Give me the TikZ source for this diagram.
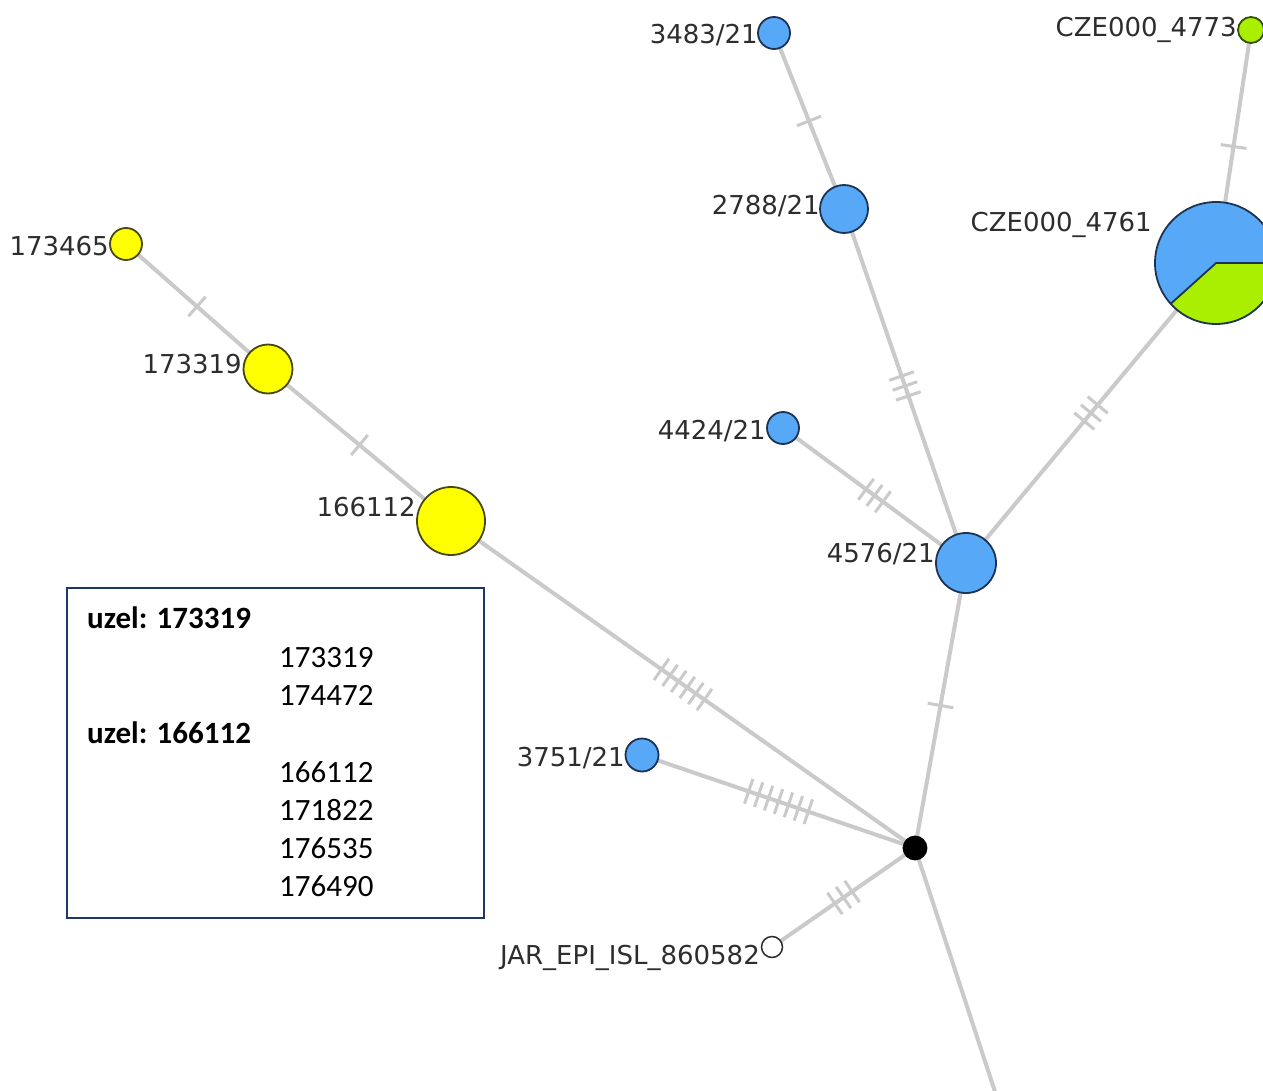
\documentclass[tikz,border=0pt]{standalone}
\usepackage{fontspec}
\setmainfont{Carlito}
\newfontfamily\labfont{DejaVu Sans}
\usetikzlibrary{decorations.markings,backgrounds}
\definecolor{hblue}{RGB}{88,168,248}
\definecolor{hblueD}{RGB}{28,52,82}
\definecolor{hyellow}{RGB}{255,255,0}
\definecolor{hyellowD}{RGB}{72,72,20}
\definecolor{hgreen}{RGB}{170,238,0}
\definecolor{hgreenD}{RGB}{50,80,10}
\definecolor{edgegray}{RGB}{202,202,202}
\definecolor{labgray}{RGB}{45,45,45}
\definecolor{boxblue}{RGB}{32,52,110}
\tikzset{
  hap/.style={circle, inner sep=0pt, line width=1.8pt},
  bluehap/.style={hap, fill=hblue, draw=hblueD},
  yelhap/.style={hap, fill=hyellow, draw=hyellowD},
  grnhap/.style={hap, fill=hgreen, draw=hgreenD},
  lab/.style={font=\labfont\fontsize{26}{30}\selectfont, text=labgray, inner sep=0pt, anchor=base east},
  leg/.style={font=\fontsize{31}{37}\selectfont, text=black, inner sep=0pt, anchor=base west},
  edgeline/.style={draw=edgegray, line width=4pt},
  tickline/.style={draw=edgegray, line width=3pt},
  ticks/.style={postaction={decorate, decoration={markings,
    mark=at position 0.5 with {\foreach \k in {1,...,#1} {\draw[tickline] ({(\k-(#1+1)/2)*10.5pt},-13pt) -- ({(\k-(#1+1)/2)*10.5pt},13pt);}}}}}
}
\begin{document}
\begin{tikzpicture}[x=1pt,y=-1pt]
\useasboundingbox (0,0) rectangle (1263,1091);

% haplotype nodes
\node[bluehap, minimum size=32pt] (n3483) at (774,33) {};
\node[bluehap, minimum size=48pt] (n2788) at (844,209) {};
\node[bluehap, minimum size=32pt] (n4424) at (783,428) {};
\node[bluehap, minimum size=60pt] (n4576) at (966,563) {};
\node[bluehap, minimum size=33pt] (n3751) at (642,755) {};
\node[grnhap, minimum size=26pt] (n4773) at (1251,30) {};
\node[hap, fill=black, draw=black, minimum size=23pt] (mv) at (915,848) {};
\node[hap, fill=white, draw=labgray, line width=1.5pt, minimum size=21pt] (jar) at (772,947) {};
\node[yelhap, minimum size=32pt] (n173465) at (126,244) {};
\node[yelhap, minimum size=49pt] (n173319) at (268,369) {};
\node[yelhap, minimum size=68pt] (n166112) at (451,521) {};
% pie node
\node[hap, minimum size=122pt] (n4761) at (1216,263) {};
\fill[hblue] (n4761.center) circle[radius=61pt];
\fill[hgreen] (n4761.center) -- ++(0:61pt) arc[start angle=0, end angle=-138, radius=61pt] -- cycle;
\draw[hblueD, line width=1.8pt] ([shift={(-138:61pt)}]n4761.center) -- (n4761.center) -- ++(0:61pt);
\draw[hblueD, line width=1.8pt] (n4761.center) circle[radius=61pt];

\coordinate (tail) at (1001,1110);

% connectors
\begin{scope}[on background layer]
\fill[white] (0,0) rectangle (1263,1091);
\draw[edgeline, ticks=1] (n3483.center) -- (n2788.center);
\draw[edgeline, ticks=3] (n2788.center) -- (n4576.center);
\draw[edgeline, ticks=3] (n4424.center) -- (n4576.center);
\draw[edgeline, ticks=3] (n4576.center) -- (n4761.center);
\draw[edgeline, ticks=1] (n4761.center) -- (n4773.center);
\draw[edgeline, ticks=1] (n4576.center) -- (mv.center);
\draw[edgeline, ticks=6] (n166112.center) -- (mv.center);
\draw[edgeline, ticks=7] (n3751.center) -- (mv.center);
\draw[edgeline, ticks=3] (jar.center) -- (mv.center);
\draw[edgeline, ticks=1] (n173465.center) -- (n173319.center);
\draw[edgeline, ticks=1] (n173319.center) -- (n166112.center);
\draw[edgeline] (mv.center) -- (tail);
\end{scope}

% labels
\node[lab] (t3483) at (758,44) {3483/21};
\node[lab] (t2788) at (820,215) {2788/21};
\node[lab] (t4773) at (1237,37) {CZE000\_4773};
\node[lab] (t4761) at (1152,232) {CZE000\_4761};
\node[lab] (t173465) at (109,256) {173465};
\node[lab] (t173319) at (242,373) {173319};
\node[lab] (t166112) at (416,516) {166112};
\node[lab] (t4424) at (766,439) {4424/21};
\node[lab] (t4576) at (935,562) {4576/21};
\node[lab] (t3751) at (625,766) {3751/21};
\node[lab] (tjar) at (760,964) {JAR\_EPI\_ISL\_860582};

% legend box
\draw[boxblue, line width=1.8pt] (67,588) rectangle (484,918);
\node[leg, font=\fontsize{31}{37}\selectfont\bfseries] (l1) at (87,628) {uzel: 173319};
\node[leg] (l2) at (279,667) {173319};
\node[leg] (l3) at (279,705) {174472};
\node[leg, font=\fontsize{31}{37}\selectfont\bfseries] (l4) at (87,743) {uzel: 166112};
\node[leg] (l5) at (279,782) {166112};
\node[leg] (l6) at (279,820) {171822};
\node[leg] (l7) at (279,858) {176535};
\node[leg] (l8) at (279,896) {176490};
\end{tikzpicture}
\end{document}
